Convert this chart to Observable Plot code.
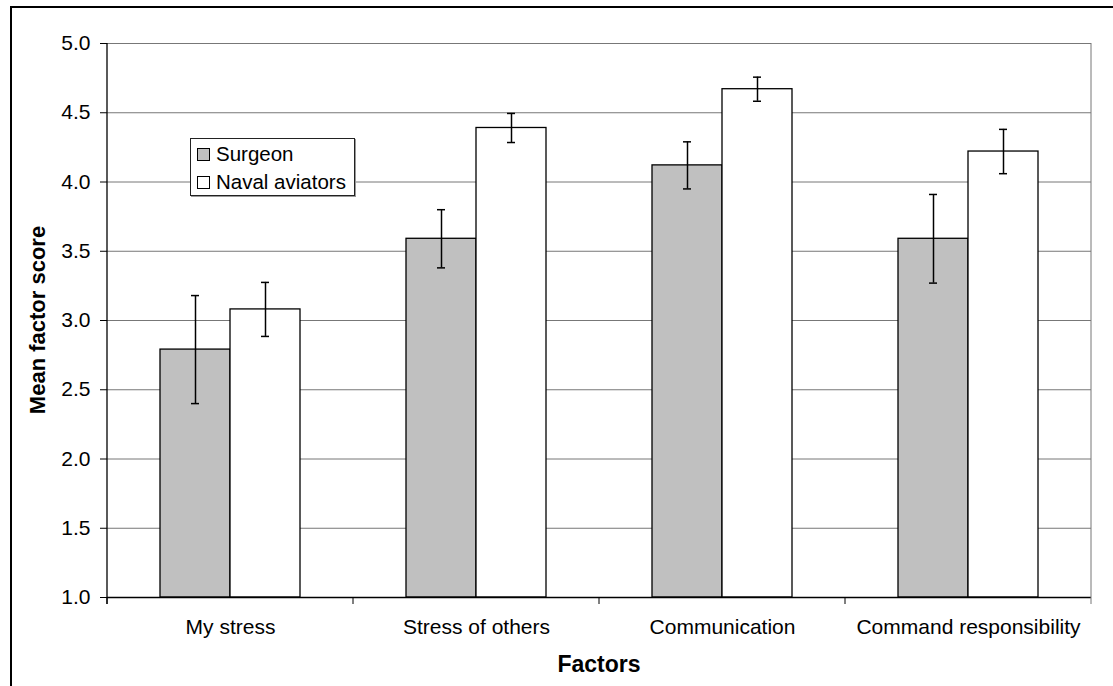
<!DOCTYPE html>
<html>
<head>
<meta charset="utf-8">
<script src="https://cdn.jsdelivr.net/npm/d3@7"></script>
<script src="https://cdn.jsdelivr.net/npm/@observablehq/plot@0.6"></script>
<style>
  html, body { margin: 0; padding: 0; background: white; overflow: hidden; }
  body { width: 1113px; height: 686px; position: relative; font-family: "Liberation Sans", Arial, sans-serif; }
  #frame { position: absolute; left: 10px; top: 6px; width: 1200px; height: 800px;
           border-left: 2px solid black; border-top: 2px solid black; pointer-events: none; }
  #chart { position: absolute; left: 0; top: 0; }
  #legend { position: absolute; left: 190px; top: 138px; width: 163px; height: 56px;
            border: 1px solid #222; background: white; box-shadow: 1px 1px 0 #999;
            font-size: 20.5px; color: black; }
  .item { position: absolute; left: 6px; display: flex; align-items: center; white-space: nowrap; }
  .sw { width: 11px; height: 11px; border: 1px solid black; margin-right: 6px; }
</style>
</head>
<body>
<div id="chart"></div>
<div id="frame"></div>
<div id="legend"></div>
<script>
const factors = ["My stress", "Stress of others", "Communication", "Command responsibility"];
const groups = ["Surgeon", "Naval aviators"];
const groupColors = ["#c0c0c0", "#ffffff"];
const surgeonMean = [2.79, 3.59, 4.12, 3.59];
const surgeonErr = [0.39, 0.21, 0.17, 0.32];
const navalMean = [3.08, 4.39, 4.67, 4.22];
const navalErr = [0.195, 0.105, 0.087, 0.16];
const yTicks = [1.0, 1.5, 2.0, 2.5, 3.0, 3.5, 4.0, 4.5, 5.0];
const yMin = 1.0, yMax = 5.0;

const data = [];
factors.forEach((f, i) => {
  data.push({factor: f, group: groups[0], mean: surgeonMean[i], err: surgeonErr[i]});
  data.push({factor: f, group: groups[1], mean: navalMean[i], err: navalErr[i]});
});

const chart = Plot.plot({
  width: 1113, height: 686,
  marginLeft: 105, marginRight: 21, marginTop: 43, marginBottom: 89,
  style: {fontFamily: "'Liberation Sans', Arial, sans-serif", fontSize: "21px", color: "black", background: "transparent"},
  fx: {domain: factors, padding: 0, label: null, axis: null},
  x: {domain: groups, paddingInner: 0, paddingOuter: 0.745, axis: null},
  y: {domain: [yMin, yMax], axis: null},
  color: {domain: groups, range: groupColors},
  marks: [
    Plot.gridY(yTicks, {stroke: "#777", strokeOpacity: 1, strokeWidth: 1}),
    Plot.barY(data, {fx: "factor", x: "group", y1: () => yMin, y2: "mean", fill: "group", stroke: "black", strokeWidth: 1.3}),
    Plot.ruleX(data, {fx: "factor", x: "group", y1: d => d.mean - d.err, y2: d => d.mean + d.err, stroke: "black", strokeWidth: 1.5}),
    Plot.tickY(data, {fx: "factor", x: "group", y: d => d.mean - d.err, insetLeft: 31, insetRight: 31, stroke: "black", strokeWidth: 1.5}),
    Plot.tickY(data, {fx: "factor", x: "group", y: d => d.mean + d.err, insetLeft: 31, insetRight: 31, stroke: "black", strokeWidth: 1.5}),
    Plot.ruleY([yMin], {stroke: "black", strokeWidth: 1.3}),
    Plot.axisY(yTicks, {tickSize: 7, tickPadding: 10, tickFormat: d => d.toFixed(1), fontSize: 21, label: null}),
    Plot.axisFx({anchor: "bottom", tickSize: 0, tickPadding: 22, fontSize: 21, label: null})
  ]
});

document.getElementById("chart").appendChild(chart);

// decorations using the plot's own scales
const fx = chart.scale("fx");
const y = chart.scale("y");
const svg = d3.select(chart);
const y0 = y.apply(yMin), y1 = y.apply(yMax);
const left = fx.apply(factors[0]);
const right = fx.apply(factors[factors.length - 1]) + fx.bandwidth;
const g = svg.append("g");
// right border of plot area
g.append("line").attr("x1", right).attr("x2", right).attr("y1", y1).attr("y2", y0 + 7).attr("stroke", "#777");
// category boundary ticks
factors.forEach(f => {
  const xb = fx.apply(f);
  g.append("line").attr("x1", xb).attr("x2", xb).attr("y1", y0).attr("y2", y0 + 7).attr("stroke", "black");
});
// left axis line
g.append("line").attr("x1", left).attr("x2", left).attr("y1", y1).attr("y2", y0 + 7).attr("stroke", "black").attr("stroke-width", 1.3);
// axis titles
g.append("text").attr("x", (left + right) / 2).attr("y", 672).attr("text-anchor", "middle")
  .attr("font-weight", "bold").attr("font-size", 23).attr("fill", "black").text("Factors");
g.append("text").attr("transform", `translate(45,${(y0 + y1) / 2}) rotate(-90)`).attr("text-anchor", "middle")
  .attr("font-weight", "bold").attr("font-size", 22).attr("fill", "black").text("Mean factor score");

// legend
const legend = document.getElementById("legend");
groups.forEach((gr, i) => {
  const it = document.createElement("div");
  it.className = "item";
  it.style.top = (3 + i * 28) + "px";
  const sw = document.createElement("div");
  sw.className = "sw";
  sw.style.background = groupColors[i];
  const tx = document.createElement("span");
  tx.textContent = gr;
  it.appendChild(sw); it.appendChild(tx);
  legend.appendChild(it);
});
</script>
</body>
</html>
